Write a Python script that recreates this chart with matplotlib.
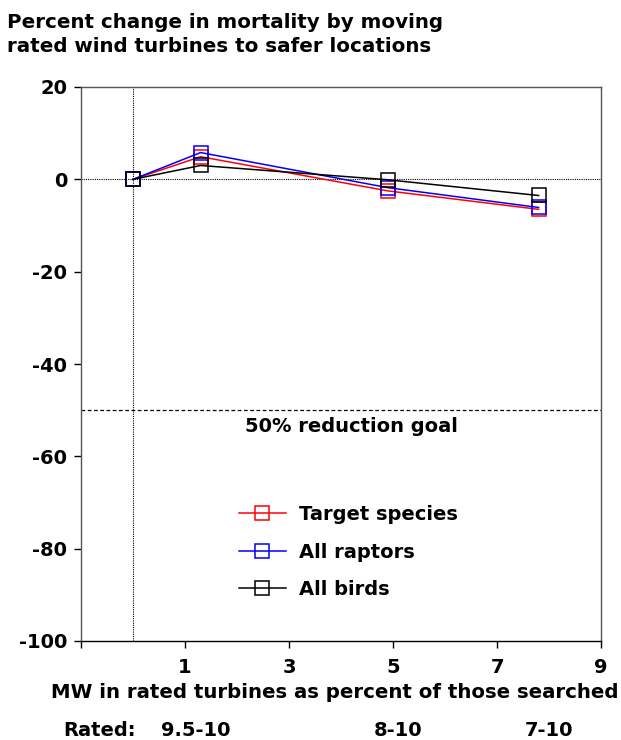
import matplotlib
matplotlib.use("Agg")
import matplotlib.pyplot as plt
from matplotlib.transforms import blended_transform_factory

plt.rcParams['font.family'] = ['DejaVu Sans']
plt.rcParams['font.weight'] = 'bold'
plt.rcParams['axes.unicode_minus'] = False

x_vals = [0, 1.3, 4.9, 7.8]
target_species = [0, 4.9, -2.5, -6.5]
all_raptors = [0, 5.8, -1.8, -6.1]
all_birds = [0, 3.0, -0.1, -3.5]
series_names = ["Target species", "All raptors", "All birds"]
series_colors = ["red", "blue", "black"]
x_ticks = [-1, 1, 3, 5, 7, 9]
x_tick_labels = ["", "1", "3", "5", "7", "9"]
y_ticks = [20, 0, -20, -40, -60, -80, -100]
rated_labels = ["9.5-10", "8-10", "7-10"]
rated_label_x = [1.2, 5.1, 8.0]

FS = 14

fig = plt.figure(figsize=(6.21, 7.40), dpi=100)
ax = fig.add_axes([81/621, 1-641/740, 520/621, 554/740])

ax.axhline(0, color='black', linestyle=(0, (1, 1)), linewidth=0.8, zorder=1)
ax.axvline(0, color='black', linestyle=(0, (1, 1)), linewidth=0.8, zorder=1)
ax.axhline(-50, color='black', linestyle=(0, (3, 2)), linewidth=0.9, zorder=1)

for ys, name, c in zip([target_species, all_raptors, all_birds], series_names, series_colors):
    ax.plot(x_vals, ys, color=c, marker='s', markersize=9.5, markerfacecolor='none',
            markeredgecolor=c, markeredgewidth=1.1, linewidth=1.1, label=name, zorder=3)

ax.set_xlim(-1, 9)
ax.set_ylim(-100, 20)
ax.set_xticks(x_ticks)
ax.set_xticklabels(x_tick_labels)
ax.set_yticks(y_ticks)
ax.tick_params(axis='both', direction='out', length=5, width=1, labelsize=FS, pad=5)
ax.tick_params(axis='x', pad=7)
for s in ['top', 'right', 'left']:
    ax.spines[s].set_color('#555555')
ax.spines['bottom'].set_color('black')
for s in ax.spines.values():
    s.set_linewidth(1.0)

ax.text(4.21, -53.5, "50% reduction goal", ha='center', va='center', fontsize=FS, fontweight='bold')

leg = ax.legend(loc='upper left', bbox_to_anchor=(0.27, 0.277), frameon=False, fontsize=FS,
                handlelength=2.4, handletextpad=0.7, labelspacing=0.95)

fig.text(7/621, 1-22/740, "Percent change in mortality by moving", fontsize=14.3, fontweight='bold',
         ha='left', va='center')
fig.text(7/621, 1-47/740, "rated wind turbines to safer locations", fontsize=14.3, fontweight='bold',
         ha='left', va='center')

fig.text(335/621, 1-693/740, "MW in rated turbines as percent of those searched", fontsize=14.2,
         fontweight='bold', ha='center', va='center')
fig.text(63/621, 1-730/740, "Rated:", fontsize=FS, fontweight='bold', ha='left', va='center')
tr = blended_transform_factory(ax.transData, fig.transFigure)
for lx, lab in zip(rated_label_x, rated_labels):
    fig.text(lx, 1-730/740, lab, fontsize=FS, fontweight='bold', ha='center', va='center', transform=tr)

fig.savefig("out.png", dpi=100)
